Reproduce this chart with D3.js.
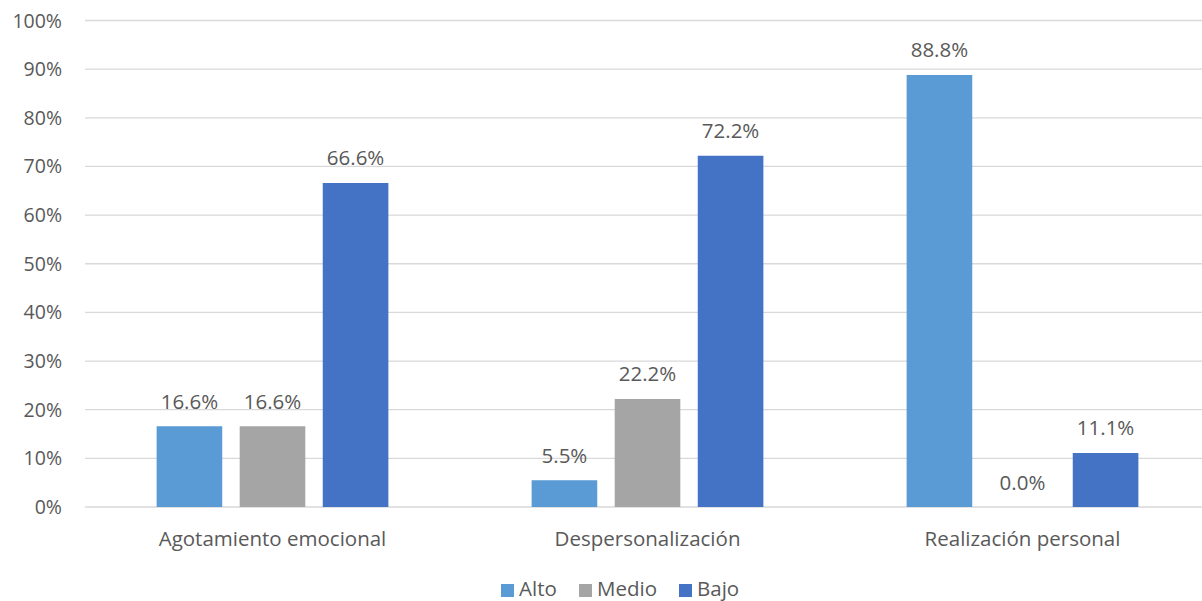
<!DOCTYPE html>
<html>
<head>
<meta charset="utf-8">
<script src="https://cdn.jsdelivr.net/npm/d3@7"></script>
<style>
  body { margin: 0; background: #fff; }
  text { font-family: "Open Sans", sans-serif; fill: #595959; }
</style>
</head>
<body>
<script>
// chart data
const categories = ["Agotamiento emocional", "Despersonalización", "Realización personal"];
const seriesNames = ["Alto", "Medio", "Bajo"];
const alto = [16.6, 5.5, 88.8];
const medio = [16.6, 22.2, 0.0];
const bajo = [66.6, 72.2, 11.1];
const yTicks = [0, 10, 20, 30, 40, 50, 60, 70, 80, 90, 100];

const colors = ["#5B9BD5", "#A5A5A5", "#4472C4"];
const values = [alto, medio, bajo];

const W = 1202, H = 601;
const margin = {top: 20.5, right: -8, bottom: 94, left: 85};
const width = W - margin.left - margin.right,
    height = H - margin.top - margin.bottom;

const svg = d3.select("body")
    .append("svg")
    .attr("width", W)
    .attr("height", H);

const g = svg.append("g")
    .attr("transform", `translate(${margin.left},${margin.top})`);

// category scale, group scale
const x0 = d3.scaleBand()
    .domain(categories)
    .range([0, width])
    .paddingInner(0.382)
    .paddingOuter(0.191);

const x1 = d3.scaleBand()
    .domain(seriesNames)
    .range([0, x0.bandwidth()])
    .paddingInner(0.21)
    .paddingOuter(0);

const y = d3.scaleLinear()
    .domain([0, 100])
    .range([height, 0]);

// gridlines
g.append("g")
    .selectAll("line")
    .data(yTicks)
    .join("line")
    .attr("x1", 0)
    .attr("x2", width)
    .attr("y1", d => y(d))
    .attr("y2", d => y(d))
    .attr("stroke", "#d9d9d9")
    .attr("stroke-width", 1.3);

// y labels
g.append("g")
    .selectAll("text")
    .data(yTicks)
    .join("text")
    .attr("x", -23)
    .attr("y", d => y(d))
    .attr("dy", "0.36em")
    .attr("text-anchor", "end")
    .style("font-size", "19.5px")
    .text(d => d + "%");

// bars
const groups = g.append("g")
    .selectAll("g")
    .data(categories)
    .join("g")
    .attr("transform", d => `translate(${x0(d)},0)`);

const rows = (c, ci) => seriesNames.map((s, si) => ({s, si, v: values[si][ci]}));

groups.selectAll("rect")
    .data(rows)
    .join("rect")
    .attr("x", d => x1(d.s))
    .attr("width", x1.bandwidth())
    .attr("y", d => y(d.v))
    .attr("height", d => height - y(d.v))
    .attr("fill", d => colors[d.si]);

groups.selectAll("text.lbl")
    .data(rows)
    .join("text")
    .attr("class", "lbl")
    .attr("x", d => x1(d.s) + x1.bandwidth() / 2)
    .attr("y", d => y(d.v) - 17.5)
    .attr("text-anchor", "middle")
    .style("font-size", "20.5px")
    .text(d => d.v.toFixed(1) + "%");

// category labels
g.append("g")
    .selectAll("text")
    .data(categories)
    .join("text")
    .attr("x", d => x0(d) + x0.bandwidth() / 2)
    .attr("y", height + 38.5)
    .attr("text-anchor", "middle")
    .style("font-size", "20.5px")
    .text(d => d);

// legend
const legendX = [501, 579, 679];
const legend = svg.append("g")
    .selectAll("g")
    .data(seriesNames)
    .join("g")
    .attr("transform", (d, i) => `translate(${legendX[i]},584)`);

legend.append("rect")
    .attr("width", 13)
    .attr("height", 13)
    .attr("fill", (d, i) => colors[i]);

legend.append("text")
    .attr("x", 18)
    .attr("y", 12)
    .style("font-size", "20.5px")
    .text(d => d);
</script>
</body>
</html>
